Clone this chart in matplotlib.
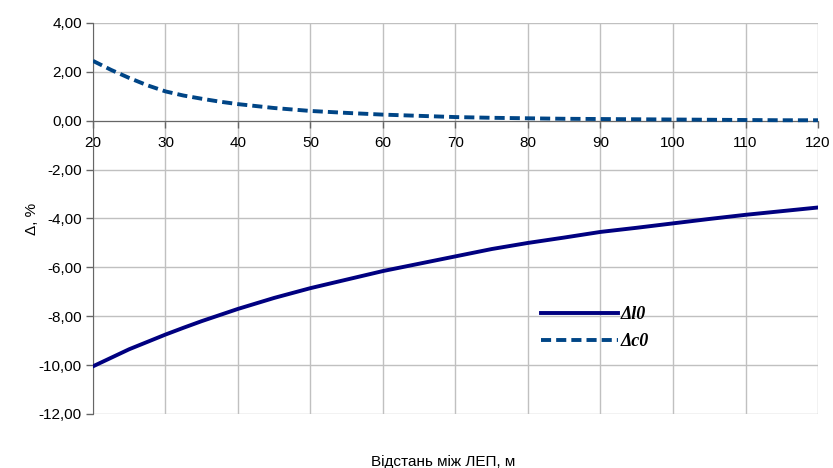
#!/usr/bin/env python3
"""
Relative error of line parameters vs. distance between power lines.
"""

import matplotlib
matplotlib.use('Agg')
import matplotlib.pyplot as plt
from matplotlib.ticker import FuncFormatter

# distance between power lines, m
dist = [20, 22.5, 25, 27.5, 30, 32.5, 35, 37.5, 40, 45, 50, 55, 60, 65,
        70, 75, 80, 85, 90, 95, 100, 105, 110, 115, 120]
# relative errors, %
dl0 = [-10.05, -9.7, -9.35, -9.05, -8.75, -8.47, -8.2, -7.95, -7.7, -7.25,
       -6.85, -6.5, -6.15, -5.85, -5.55, -5.25, -5.0, -4.78, -4.55, -4.38,
       -4.2, -4.02, -3.85, -3.7, -3.55]
dc0 = [2.45, 2.08, 1.75, 1.45, 1.2, 1.03, 0.9, 0.78, 0.68, 0.52, 0.4,
       0.32, 0.25, 0.2, 0.15, 0.12, 0.1, 0.08, 0.07, 0.06, 0.05, 0.04,
       0.03, 0.02, 0.02]

x_ticks = list(range(20, 121, 10))
y_ticks = list(range(-12, 5, 2))

plt.rcParams['font.family'] = ['Liberation Sans', 'DejaVu Sans']

fig = plt.figure(figsize=(8.33, 4.68), dpi=100)
ax = fig.add_axes([0.1116, 0.1154, 0.8704, 0.8355])

ax.plot(dist, dl0, color='#000080', lw=2.8, label='Δl0', zorder=3,
        solid_joinstyle='round')
ax.plot(dist, dc0, color='#004586', lw=2.8, dashes=(2.6, 1.3),
        label='Δc0', zorder=3)

ax.set_xlim(20, 120)
ax.set_ylim(-12, 4)
ax.set_xticks(x_ticks)
ax.set_yticks(y_ticks)
ax.yaxis.set_major_formatter(
    FuncFormatter(lambda v, p: '{:.2f}'.format(v).replace('.', ',')))
ax.grid(True, color='#c0c0c0', lw=1)
ax.set_axisbelow(True)

for s in ['top', 'right']:
    ax.spines[s].set_visible(False)
ax.spines['bottom'].set_position(('data', 0))
ax.spines['bottom'].set_color('#666666')
ax.spines['left'].set_color('#666666')
ax.spines['bottom'].set_zorder(2)
ax.tick_params(axis='both', colors='#666666', labelcolor='black',
               labelsize=11, length=5, width=1)
ax.tick_params(axis='x', pad=6)
ax.tick_params(axis='y', pad=3)

ax.set_ylabel('Δ, %', fontsize=11)
ax.yaxis.set_label_coords(-0.074, 0.5)
fig.text(0.532, 0.005, 'Відстань між ЛЕП, м', ha='center', fontsize=11)

leg = ax.legend(loc='upper left', bbox_to_anchor=(0.595, 0.317),
                frameon=False, handlelength=4.3, labelspacing=0.55,
                handletextpad=0.15,
                prop={'family': 'Liberation Serif', 'weight': 'bold',
                      'style': 'italic', 'size': 13})

fig.savefig('out.png', dpi=100)
